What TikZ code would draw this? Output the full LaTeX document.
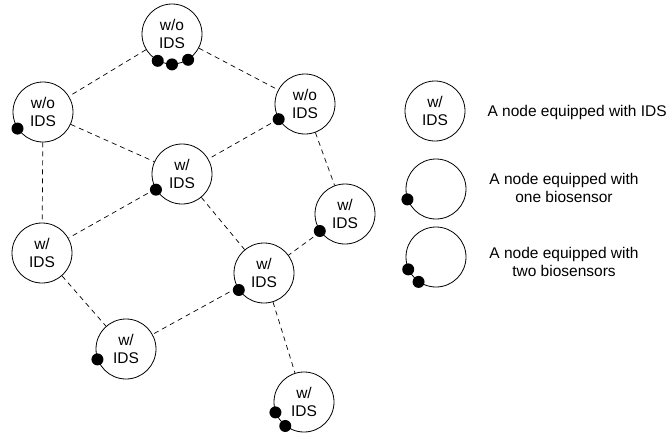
\documentclass[tikz,border=0pt]{standalone}
\usepackage{fontspec}
\setmainfont{Liberation Sans}
\begin{document}
\begin{tikzpicture}[x=1pt,y=-1pt,
  netnode/.style={circle,draw,line width=0.8pt,minimum size=60pt,inner sep=0pt,align=center,
    font=\fontsize{15.5}{18}\selectfont},
  link/.style={dashed,dash pattern=on 5pt off 4pt,line width=0.7pt},
  legtext/.style={align=center,font=\fontsize{15.5}{17.5}\selectfont},
  sensor/.style={fill=black}]
\useasboundingbox (0,0) rectangle (670,432);
% network nodes
\node[netnode] (A) at (172,34) {w/o\\IDS};
\node[netnode] (B) at (43,112) {w/o\\IDS};
\node[netnode] (C) at (305,104) {w/o\\IDS};
\node[netnode] (D) at (182,174) {w/\\IDS};
\node[netnode] (E) at (345,214) {w/\\IDS};
\node[netnode] (F) at (42,253) {w/\\IDS};
\node[netnode] (G) at (264,273) {w/\\IDS};
\node[netnode] (H) at (126,349) {w/\\IDS};
\node[netnode] (I) at (304,402) {w/\\IDS};
% links
\draw[link] (A) -- (B);
\draw[link] (A) -- (C);
\draw[link] (B) -- (D);
\draw[link] (C) -- (D);
\draw[link] (B) -- (F);
\draw[link] (C) -- (E);
\draw[link] (D) -- (F);
\draw[link] (D) -- (G);
\draw[link] (E) -- (G);
\draw[link] (F) -- (H);
\draw[link] (G) -- (H);
\draw[link] (G) -- (I);
% biosensors
\fill[sensor] (A.242) circle (6pt);
\fill[sensor] (A.270) circle (6pt);
\fill[sensor] (A.302) circle (6pt);
\fill[sensor] (B.213) circle (6pt);
\fill[sensor] (C.210) circle (6pt);
\fill[sensor] (D.211) circle (6pt);
\fill[sensor] (E.214) circle (6pt);
\fill[sensor] (G.214) circle (6pt);
\fill[sensor] (H.200) circle (6pt);
\fill[sensor] (I.200) circle (6pt);
\fill[sensor] (I.232) circle (6pt);
% legend
\node[netnode] (L1) at (435,111) {w/\\IDS};
\node[netnode] (L2) at (436,189) {};
\node[netnode] (L3) at (436,257) {};
\fill[sensor] (L2.200) circle (6pt);
\fill[sensor] (L3.204) circle (6pt);
\fill[sensor] (L3.235) circle (6pt);
\node[legtext,anchor=west] (T1) at (484,112) {A node equipped with IDS};
\node[legtext] (T2) at (564,188) {A node equipped with\\one biosensor};
\node[legtext] (T3) at (564,262) {A node equipped with\\two biosensors};
\end{tikzpicture}
\end{document}
